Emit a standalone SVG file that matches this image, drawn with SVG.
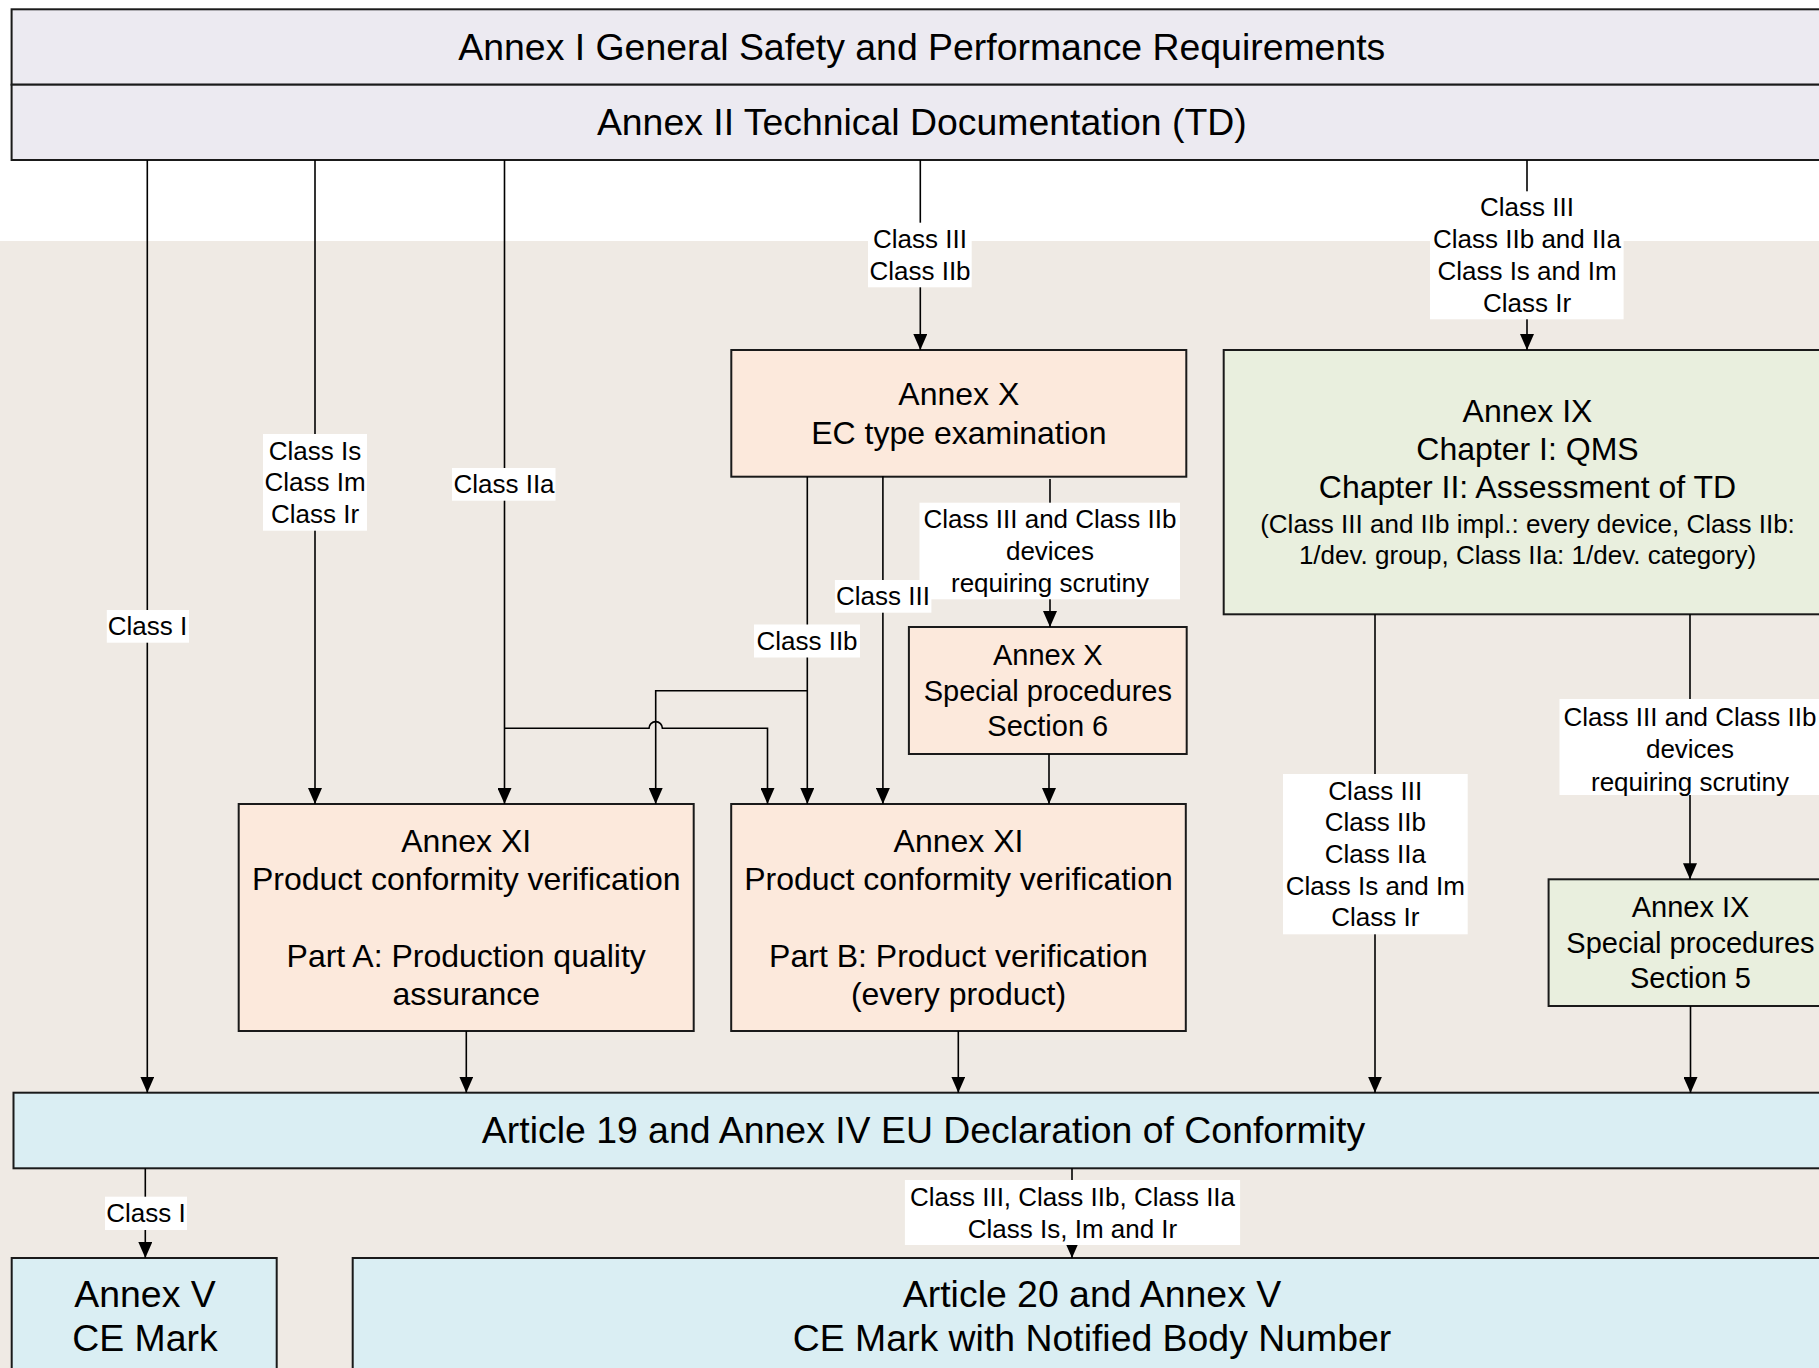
<svg xmlns="http://www.w3.org/2000/svg" width="1819" height="1368" viewBox="0 0 1819 1368">
<style>
text{font-family:"Liberation Sans",Arial,sans-serif;fill:#000;text-anchor:middle}
.t37{font-size:37.4px}
.t32{font-size:32px}
.t29{font-size:29px}
.t26{font-size:26px}
.box{stroke:#1a1a1a;stroke-width:2}
.lav{fill:#ECEAF1}
.peach{fill:#FCE9DC}
.green{fill:#E9EFDE}
.blue{fill:#DAEEF3}
.con{fill:none;stroke:#000;stroke-width:1.6}
.lbl{fill:#fff}
</style>
<defs>
<marker id="arr" markerWidth="16" markerHeight="14" refX="16" refY="7" orient="auto" markerUnits="userSpaceOnUse">
<path d="M0,0 L16,7 L0,14 z" fill="#000"/>
</marker>
</defs>
<rect x="0" y="0" width="1819" height="1368" fill="#fff"/>
<rect x="0" y="241" width="1819" height="1127" fill="#EFEAE4"/>

<g id="annex-i">
<rect class="box lav" x="11.6" y="9.3" width="1820" height="75.4"/>
<text class="t37" x="921.8" y="59.8">Annex I General Safety and Performance Requirements</text>
</g>
<g id="annex-ii">
<rect class="box lav" x="11.6" y="84.7" width="1820" height="75.3"/>
<text class="t37" x="921.8" y="135.2">Annex II Technical Documentation (TD)</text>
</g>
<g id="annex-x-ec">
<rect class="box peach" x="731.3" y="350" width="455" height="126.7"/>
<text class="t32" x="958.8" y="405.2">Annex X</text>
<text class="t32" x="958.8" y="443.6">EC type examination</text>
</g>
<g id="annex-ix">
<rect class="box green" x="1223.7" y="350" width="608" height="264.3"/>
<text class="t32" x="1527.5" y="421.7">Annex IX</text>
<text class="t32" x="1527.5" y="460">Chapter I: QMS</text>
<text class="t32" x="1527.5" y="498.3">Chapter II: Assessment of TD</text>
<text class="t26" x="1527.5" y="532.7">(Class III and IIb impl.: every device, Class IIb:</text>
<text class="t26" x="1527.5" y="564.3">1/dev. group, Class IIa: 1/dev. category)</text>
</g>
<g id="annex-x-special">
<rect class="box peach" x="908.9" y="627" width="277.8" height="127"/>
<text class="t29" x="1047.8" y="665.4">Annex X</text>
<text class="t29" x="1047.8" y="700.7">Special procedures</text>
<text class="t29" x="1047.8" y="736">Section 6</text>
</g>
<g id="annex-ix-special">
<rect class="box green" x="1548.6" y="879.3" width="283" height="126.7"/>
<text class="t29" x="1690.5" y="917">Annex IX</text>
<text class="t29" x="1690.5" y="952.5">Special procedures</text>
<text class="t29" x="1690.5" y="988">Section 5</text>
</g>
<g id="annex-xi-a">
<rect class="box peach" x="238.7" y="804" width="455" height="227"/>
<text class="t32" x="466.2" y="852">Annex XI</text>
<text class="t32" x="466.2" y="890.3">Product conformity verification</text>
<text class="t32" x="466.2" y="966.9">Part A: Production quality</text>
<text class="t32" x="466.2" y="1005.2">assurance</text>
</g>
<g id="annex-xi-b">
<rect class="box peach" x="731.2" y="804" width="454.6" height="227"/>
<text class="t32" x="958.5" y="852">Annex XI</text>
<text class="t32" x="958.5" y="890.3">Product conformity verification</text>
<text class="t32" x="958.5" y="966.9">Part B: Product verification</text>
<text class="t32" x="958.5" y="1005.2">(every product)</text>
</g>
<g id="article-19">
<rect class="box blue" x="13.5" y="1092.7" width="1819.5" height="75.6"/>
<text class="t37" x="923.5" y="1143.3">Article 19 and Annex IV EU Declaration of Conformity</text>
</g>
<g id="annex-v">
<rect class="box blue" x="11.7" y="1258" width="265" height="130"/>
<text class="t37" x="145" y="1306.7">Annex V</text>
<text class="t37" x="145" y="1350.7">CE Mark</text>
</g>
<g id="article-20">
<rect class="box blue" x="352.7" y="1258" width="1480" height="130"/>
<text class="t37" x="1092" y="1306.7">Article 20 and Annex V</text>
<text class="t37" x="1092" y="1350.7">CE Mark with Notified Body Number</text>
</g>

<g id="connectors">
<path class="con" d="M147.3,160 V1092.7" marker-end="url(#arr)"/>
<path class="con" d="M315,160 V804" marker-end="url(#arr)"/>
<path class="con" d="M504.5,160 V804" marker-end="url(#arr)"/>
<path class="con" d="M504.5,728.3 H649 A6.7,6.7 0 0 1 662.4,728.3 H767.5 V804" marker-end="url(#arr)"/>
<path class="con" d="M920.3,160 V350" marker-end="url(#arr)"/>
<path class="con" d="M1527,160 V350" marker-end="url(#arr)"/>
<path class="con" d="M807.3,476.7 V804" marker-end="url(#arr)"/>
<path class="con" d="M807.3,690.7 H655.7 V804" marker-end="url(#arr)"/>
<path class="con" d="M882.9,476 V804" marker-end="url(#arr)"/>
<path class="con" d="M1050,479 V627" marker-end="url(#arr)"/>
<path class="con" d="M1049,754 V804" marker-end="url(#arr)"/>
<path class="con" d="M466.3,1031 V1092.7" marker-end="url(#arr)"/>
<path class="con" d="M958.3,1031 V1092.7" marker-end="url(#arr)"/>
<path class="con" d="M1375,614.3 V1092.7" marker-end="url(#arr)"/>
<path class="con" d="M1690,614.3 V879.3" marker-end="url(#arr)"/>
<path class="con" d="M1690.5,1006 V1093" marker-end="url(#arr)"/>
<path class="con" d="M145.3,1168.3 V1258" marker-end="url(#arr)"/>
<path class="con" d="M1072,1168.3 V1258" marker-end="url(#arr)"/>

<rect class="lbl" x="106.8" y="610" width="82.2" height="32.7"/>
<text class="t26" x="147.5" y="635.3">Class I</text>

<rect class="lbl" x="263" y="434" width="104" height="96.7"/>
<text class="t26" x="315" y="459.6">Class Is</text>
<text class="t26" x="315" y="491.3">Class Im</text>
<text class="t26" x="315" y="523">Class Ir</text>

<rect class="lbl" x="452" y="468" width="103.5" height="32.7"/>
<text class="t26" x="504" y="493.3">Class IIa</text>

<rect class="lbl" x="868" y="222.7" width="103.7" height="64.6"/>
<text class="t26" x="920" y="248">Class III</text>
<text class="t26" x="920" y="280">Class IIb</text>

<rect class="lbl" x="1430" y="191.3" width="193.6" height="128"/>
<text class="t26" x="1527" y="216.4">Class III</text>
<text class="t26" x="1527" y="248.1">Class IIb and IIa</text>
<text class="t26" x="1527" y="279.8">Class Is and Im</text>
<text class="t26" x="1527" y="311.5">Class Ir</text>

<rect class="lbl" x="919.5" y="502.7" width="260.5" height="96.6"/>
<text class="t26" x="1050" y="528.4">Class III and Class IIb</text>
<text class="t26" x="1050" y="560">devices</text>
<text class="t26" x="1050" y="591.7">requiring scrutiny</text>

<rect class="lbl" x="834.9" y="580" width="96.5" height="32.7"/>
<text class="t26" x="883" y="605.3">Class III</text>

<rect class="lbl" x="754" y="624.5" width="106" height="33"/>
<text class="t26" x="807" y="650">Class IIb</text>

<rect class="lbl" x="1283" y="774" width="184.7" height="160.3"/>
<text class="t26" x="1375.3" y="799.7">Class III</text>
<text class="t26" x="1375.3" y="831.4">Class IIb</text>
<text class="t26" x="1375.3" y="863">Class IIa</text>
<text class="t26" x="1375.3" y="894.7">Class Is and Im</text>
<text class="t26" x="1375.3" y="926.4">Class Ir</text>

<rect class="lbl" x="1559.5" y="699" width="262" height="96"/>
<text class="t26" x="1690" y="725.7">Class III and Class IIb</text>
<text class="t26" x="1690" y="758.3">devices</text>
<text class="t26" x="1690" y="790.7">requiring scrutiny</text>

<rect class="lbl" x="105" y="1196.7" width="82" height="33.3"/>
<text class="t26" x="146" y="1222.3">Class I</text>

<rect class="lbl" x="904.9" y="1180" width="335.2" height="65"/>
<text class="t26" x="1072.5" y="1205.7">Class III, Class IIb, Class IIa</text>
<text class="t26" x="1072.5" y="1238.3">Class Is, Im and Ir</text>
</g>
</svg>
